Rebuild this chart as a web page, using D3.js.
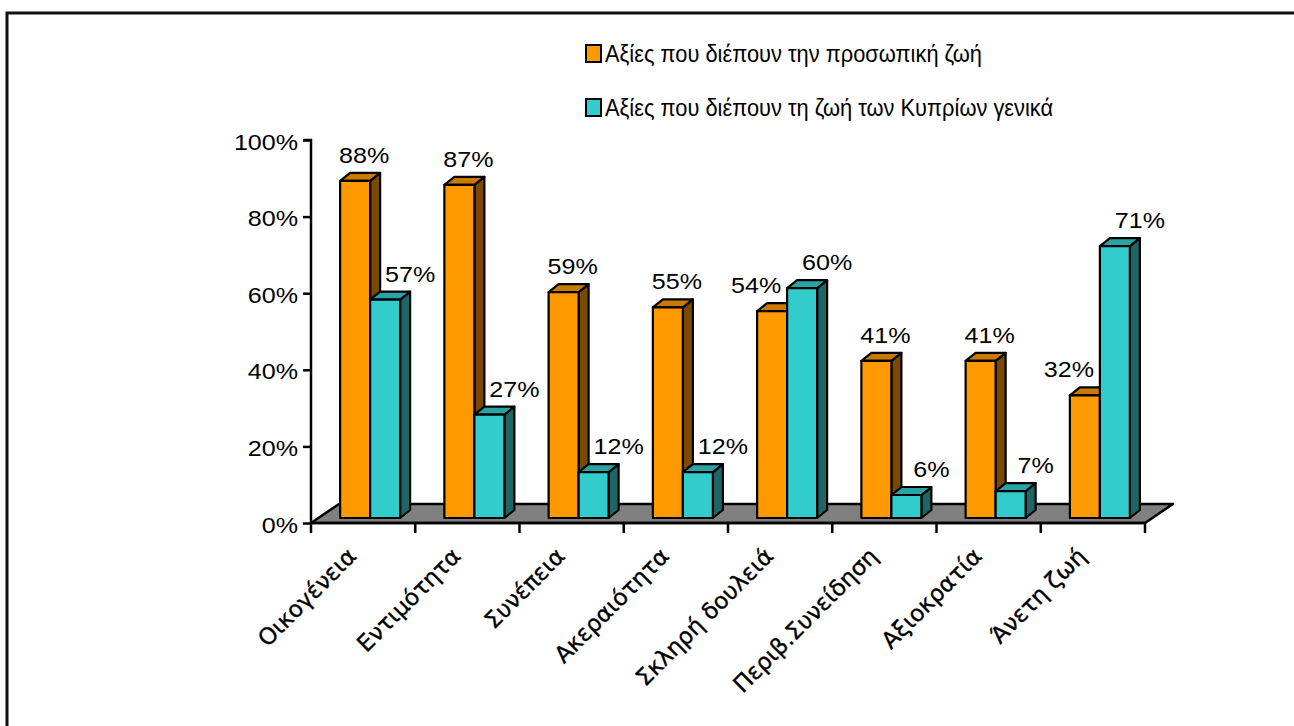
<!DOCTYPE html>
<html><head><meta charset="utf-8">
<script src="https://cdn.jsdelivr.net/npm/d3@7"></script>
<style>body{margin:0;background:#fff}svg{display:block}</style>
</head><body>
<svg id="chart" width="1294" height="726"></svg>
<script>
const categories = ["Οικογένεια","Εντιμότητα","Συνέπεια","Ακεραιότητα","Σκληρή δουλειά","Περιβ.Συνείδηση","Αξιοκρατία","Άνετη ζωή"];
const seriesNames = ["Αξίες που διέπουν την προσωπική ζωή","Αξίες που διέπουν τη ζωή των Κυπρίων γενικά"];
const personal = [0.88,0.87,0.59,0.55,0.54,0.41,0.41,0.32];
const general  = [0.57,0.27,0.12,0.12,0.60,0.06,0.07,0.71];
const yTicks = [0,0.2,0.4,0.6,0.8,1.0];

const colors = [{front:"#FF9900", top:"#C97A00", side:"#7A4A00"},
                {front:"#33CCCC", top:"#29A3A3", side:"#1E6666"}];

const svg = d3.select("#chart");
const FONT = "'Liberation Sans', Arial, sans-serif";
const SX = 1.14; // horizontal stretch of numeric text

// outer frame
svg.append("rect").attr("x",7).attr("y",13).attr("width",1300).attr("height",730)
  .attr("fill","none").attr("stroke","#111").attr("stroke-width",3);

const x = d3.scaleBand().domain(categories).range([311,1145]).paddingInner(0).paddingOuter(0);
const y = d3.scaleLinear().domain([0,1]).range([523,140]);

// floor
const fd = {dx:28, dy:-19};
const fl = x.range();
svg.append("path")
  .attr("d", `M${fl[0]},${y(0)}L${fl[1]},${y(0)}L${fl[1]+fd.dx},${y(0)+fd.dy}L${fl[0]+fd.dx},${y(0)+fd.dy}Z`)
  .attr("fill","#808080").attr("stroke","#000").attr("stroke-width",2.5).attr("stroke-linejoin","round");

// axes
const yAxis = d3.axisLeft(y).tickValues(yTicks).tickSize(8).tickFormat(d3.format(".0%"));
const gy = svg.append("g").attr("transform","translate(311,0)").call(yAxis);
gy.select(".domain").attr("stroke","#000").attr("stroke-width",2.5).attr("d",`M-8,${y(1)}H0V${y(0)}`);
gy.selectAll(".tick line").attr("stroke","#000").attr("stroke-width",2.5);
gy.selectAll(".tick text").remove();
gy.selectAll(".tick").append("text")
  .attr("transform",`translate(-13,9) scale(${SX},1)`)
  .attr("text-anchor","end").attr("fill","#000")
  .style("font-family",FONT).style("font-size","22px")
  .text(d=>d3.format(".0%")(d));

const xAxis = d3.axisBottom(x).tickSize(0).tickFormat("");
const gx = svg.append("g").attr("transform",`translate(0,${y(0)})`).call(xAxis);
gx.select(".domain").attr("stroke","#000").attr("stroke-width",2.5).attr("d",`M${fl[0]},0H${fl[1]}`);
// category boundary ticks
const bounds = categories.map(c=>x(c)).concat([fl[1]]);
svg.append("g").selectAll("line").data(bounds).join("line")
  .attr("x1",d=>d).attr("x2",d=>d).attr("y1",y(0)).attr("y2",y(0)+10)
  .attr("stroke","#000").attr("stroke-width",2.5);

// category labels
svg.append("g").selectAll("text").data(categories).join("text")
  .attr("transform",d=>`translate(${x(d)+x.bandwidth()/2-20},${y(0)+20}) rotate(-45)`)
  .attr("text-anchor","end").attr("dy","0.9em")
  .style("font-family","'DejaVu Sans', Verdana, sans-serif").style("font-size","23px")
  .attr("fill","#000").attr("stroke","#000").attr("stroke-width",0.35).text(d=>d);

// bars
const bw = 30, bo = {dx:7, dy:-5}, bd = {dx:10, dy:-8};
const data = [];
categories.forEach((c,i)=>{
  [personal[i], general[i]].forEach((v,s)=>{
    data.push({c, s, v, other: s===0 ? general[i] : personal[i]});
  });
});
const gb = svg.append("g");
data.forEach(d=>{
  const x0 = x(d.c) + x.bandwidth()/2 - bw + d.s*bw + bo.dx;
  const yb = y(0) + bo.dy, yt = y(d.v) + bo.dy;
  const col = colors[d.s];
  const g = gb.append("g");
  g.append("path").attr("d",`M${x0+bw},${yb}L${x0+bw+bd.dx},${yb+bd.dy}L${x0+bw+bd.dx},${yt+bd.dy}L${x0+bw},${yt}Z`)
    .attr("fill",col.side);
  g.append("path").attr("d",`M${x0},${yt}L${x0+bd.dx},${yt+bd.dy}L${x0+bw+bd.dx},${yt+bd.dy}L${x0+bw},${yt}Z`)
    .attr("fill",col.top);
  g.append("rect").attr("x",x0).attr("y",yt).attr("width",bw).attr("height",yb-yt).attr("fill",col.front);
  g.selectAll("path,rect").attr("stroke","#000").attr("stroke-width",2.2).attr("stroke-linejoin","round");
  const lx = x0 + bw/2 + (d.s===1 ? 25 : (d.v < d.other ? -16 : 9));
  g.append("text").attr("transform",`translate(${lx},${yt+bd.dy-10}) scale(${SX},1)`)
    .attr("text-anchor","middle").style("font-family",FONT).style("font-size","22px")
    .attr("fill","#000").text(d3.format(".0%")(d.v));
});

// legend
const lg = svg.append("g");
seriesNames.forEach((n,i)=>{
  const ly = 45 + i*54;
  lg.append("rect").attr("x",586).attr("y",ly).attr("width",15).attr("height",17)
    .attr("fill",colors[i].front).attr("stroke","#000").attr("stroke-width",2);
  lg.append("text").attr("transform",`translate(605,${ly+17}) scale(0.91,1)`)
    .style("font-family",FONT).style("font-size","24px").attr("fill","#000").text(n);
});
</script>
</body></html>
